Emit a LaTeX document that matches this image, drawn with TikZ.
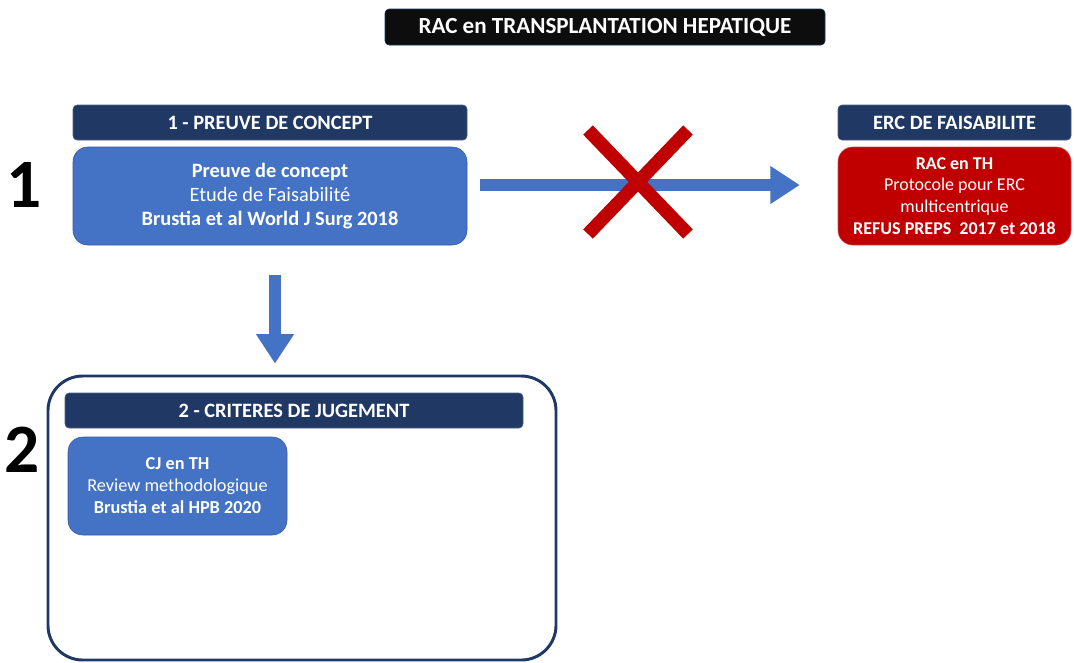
\documentclass[tikz,border=0pt]{standalone}
\usepackage{fontspec}
\setmainfont{Carlito}
\usepackage{tikz}
\usetikzlibrary{arrows.meta, calc}

\definecolor{navy}{HTML}{203864}
\definecolor{boxblue}{HTML}{4472C4}
\definecolor{boxred}{HTML}{C00000}
\definecolor{nearblack}{HTML}{0D0D0D}

\begin{document}
\begin{tikzpicture}[x=0.75pt, y=-0.75pt,
  head/.style={fill=navy, draw=navy!80!white, rounded corners=3pt, text=white, font=\fontsize{15.3}{17}\selectfont\bfseries, inner sep=0pt},
  card/.style={rounded corners=11pt, text=white, align=center, inner sep=0pt, font=\fontsize{15.3}{18}\selectfont},
  bigarrow/.style={draw=boxblue, line width=9pt, -{Triangle[length=22pt, width=27pt]}},
  stepnum/.style={font=\fontsize{52}{52}\selectfont\bfseries}]
\useasboundingbox (0,0) rectangle (1074,662);
\node[fill=nearblack, draw=navy, rounded corners=3pt, text=white, font=\fontsize{17.3}{19}\selectfont\bfseries, minimum width=330pt, minimum height=27pt, inner sep=0pt] (title) at (605,27) {RAC en TRANSPLANTATION HEPATIQUE};
\node[head, minimum width=295.5pt, minimum height=26.25pt] (h1) at (270,122.5) {1 - PREUVE DE CONCEPT};
\node[card, fill=boxblue, draw=boxblue!80!black, minimum width=295.5pt, minimum height=73.5pt] (pdc) at (270,196) {\textbf{Preuve de concept}\\Etude de Faisabilité\\\textbf{Brustia et al World J Surg 2018}};
\node[head, minimum width=174.75pt, minimum height=26.25pt] (herc) at (954.5,122.5) {ERC DE FAISABILITE};
\node[card, fill=boxred, draw=boxred!70!white, font=\fontsize{13.5}{16.3}\selectfont, minimum width=174.75pt, minimum height=73.5pt] (erc) at (954.5,196) {\textbf{RAC en TH}\\Protocole pour ERC\\multicentrique\\\textbf{REFUS PREPS\ \ 2017 et 2018}};
\node[draw=navy, line width=2.2pt, rounded corners=26pt, minimum width=381pt, minimum height=213pt] (frame) at (302,518) {};
\node[head, minimum width=343.5pt, minimum height=26.25pt] (h2) at (294,410.5) {2 - CRITERES DE JUGEMENT};
\node[card, fill=boxblue, draw=boxblue!80!black, font=\fontsize{13.7}{16.5}\selectfont, minimum width=164.25pt, minimum height=73.5pt] (cj) at (177.5,486) {\textbf{CJ en TH}\\Review methodologique\\\textbf{Brustia et al HPB 2020}};
\node[stepnum] (n1) at (24,185) {1};
\node[stepnum] (n2) at (22,450) {2};
\draw[bigarrow, shorten <=9.75pt, shorten >=28.5pt] ([yshift=8.25pt]pdc.east) -- ([yshift=8.25pt]erc.west);
\draw[bigarrow, shorten <=22.5pt, shorten >=8.25pt] ([xshift=3.75pt]pdc.south) -- ([xshift=3.75pt]pdc.south |- frame.north);
\draw[boxred, line width=10pt] (588,130) -- (688,234);
\draw[boxred, line width=10pt] (688,130) -- (588,234);
\end{tikzpicture}
\end{document}
